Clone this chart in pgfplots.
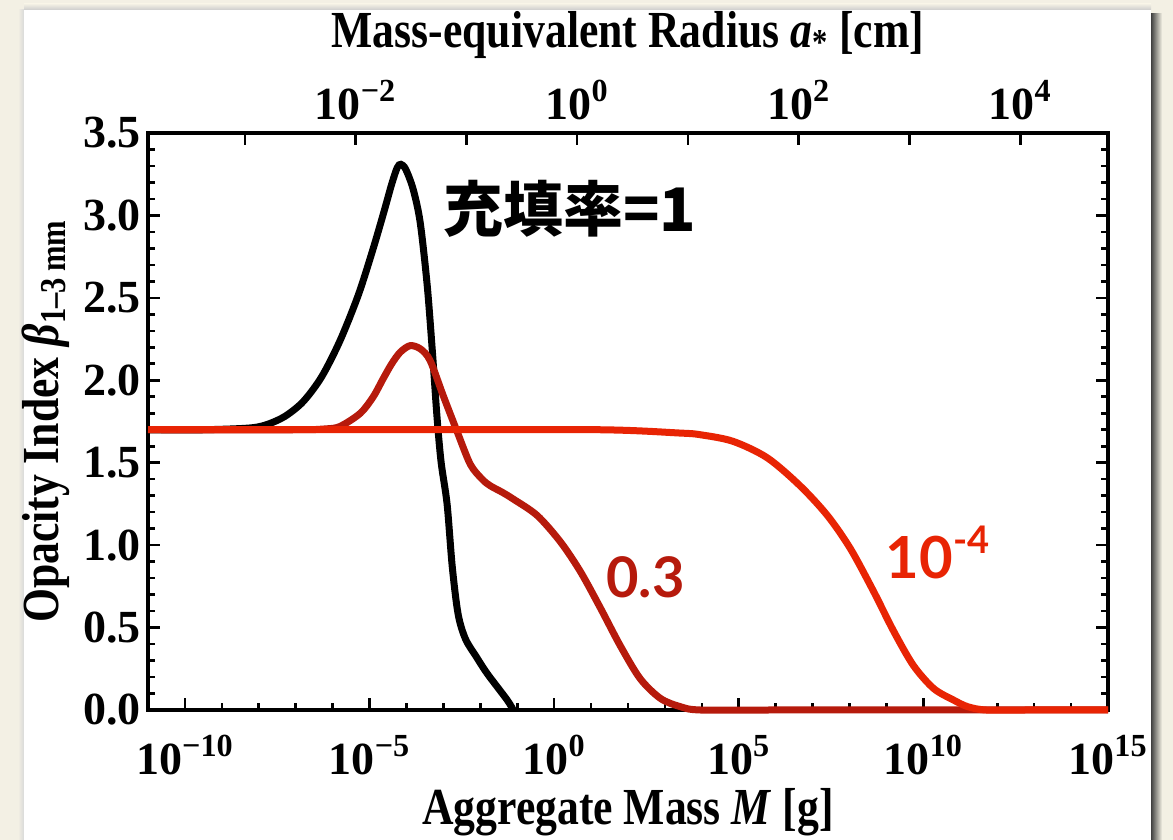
\documentclass[border=0pt]{standalone}
\usepackage{fontspec}
\setmainfont{Liberation Serif}
\newfontfamily\condserif{Liberation Serif}[FakeStretch=0.84]
\newfontfamily\cjk{Noto Sans CJK JP}
\newfontfamily\gill{Lato}
\usepackage{pgfplots}
\pgfplotsset{compat=1.18}
\definecolor{bg}{RGB}{243,240,228}
\definecolor{dred}{RGB}{182,26,12}
\definecolor{bred}{RGB}{232,36,4}

\pgfplotstableread{
lm b
-11 1.70
-9.5 1.70
-8.28 1.71
-7.8 1.73
-7.3 1.78
-6.8 1.87
-6.3 2.02
-5.8 2.24
-5.3 2.52
-4.9 2.80
-4.6 3.03
-4.4 3.19
-4.25 3.29
-4.15 3.31
-4.02 3.28
-3.82 3.16
-3.63 2.96
-3.44 2.58
-3.30 2.18
-3.17 1.77
-3.06 1.50
-2.90 1.25
-2.76 0.87
-2.60 0.58
-2.40 0.43
-2.10 0.32
-1.81 0.22
-1.27 0.06
-1.11 0.00
}\packone

\pgfplotstableread{
lm b
-11 1.70
-7.0 1.70
-6.2 1.705
-5.8 1.72
-5.25 1.80
-4.9 1.90
-4.63 2.01
-4.4 2.10
-4.17 2.17
-3.90 2.21
-3.62 2.19
-3.36 2.12
-3.01 1.91
-2.63 1.69
-2.27 1.49
-1.95 1.40
-1.73 1.36
-1.40 1.32
-1.11 1.28
-0.46 1.18
0.17 1.02
0.71 0.84
1.25 0.62
1.79 0.39
2.33 0.19
2.88 0.07
3.42 0.02
3.96 0.00
6.0 0.00
15 0.00
}\packthree

\pgfplotstableread{
lm b
-11 1.70
-4 1.70
1.23 1.70
3.40 1.68
3.95 1.67
4.84 1.63
5.77 1.53
6.66 1.36
7.40 1.18
8.02 0.98
8.65 0.72
9.19 0.48
9.73 0.27
10.28 0.13
10.82 0.06
11.2 0.02
11.7 0.00
12.8 0.00
15 0.00
}\packfour

\begin{document}
\begin{tikzpicture}
\useasboundingbox (0,0) rectangle (586.5pt,420pt);
\fill[bg] (0,0) rectangle (586.5pt,420pt);
\shade[left color=black!75, right color=bg] (575.5pt,0) rectangle (581pt,413pt);
\shade[top color=bg, bottom color=black!20] (12pt,415pt) rectangle (575.5pt,418pt);
\shade[left color=bg, right color=black!15] (9pt,0) rectangle (12pt,415pt);
\fill[white] (12pt,0) rectangle (575.5pt,415pt);

\begin{axis}[
  at={(74pt,65pt)}, anchor=south west, scale only axis,
  width=480pt, height=288.5pt,
  xmin=-11, xmax=15, ymin=0, ymax=3.5,
  xtick={-10,-5,0,5,10,15},
  xticklabels={10\textsuperscript{−10},10\textsuperscript{−5},10\textsuperscript{0},10\textsuperscript{5},10\textsuperscript{10},10\textsuperscript{15}},
  minor xtick={-11,...,15},
  ytick={0,0.5,...,3.5},
  minor y tick num=4,
  xtick pos=left, ytick pos=both, yticklabel pos=left,
  tick align=inside,
  major tick length=6pt, minor tick length=3.5pt,
  every tick/.style={black, line width=1.3pt},
  axis line style={line width=2pt},
  yticklabel style={/pgf/number format/.cd, fixed, fixed zerofill, precision=1, assume math mode=true},
  ticklabel style={font=\bfseries\fontsize{23}{23}\selectfont},
  xticklabel style={yshift=-9pt},
  label style={font=\condserif\bfseries\fontsize{26}{28}\selectfont},
  xlabel={Aggregate Mass \textit{M} [g]},
  ylabel={Opacity Index \textit{β}\textsubscript{1–3\,mm}},
  clip=false,
]
\addplot[black, line width=3.5pt, smooth] table[x=lm, y=b] {\packone};
\addplot[dred, line width=3.5pt, smooth] table[x=lm, y=b] {\packthree};
\addplot[bred, line width=3.5pt, smooth] table[x=lm, y=b] {\packfour};
\node[anchor=west, font=\cjk\bfseries\fontsize{30}{30}\selectfont] at (axis cs:-3.2,3.04) {充填率=1};
\node[anchor=base, text=dred, font=\gill\bfseries\fontsize{28}{28}\selectfont] at (axis cs:2.47,0.68) {0.3};
\node[anchor=base west, text=bred, font=\gill\bfseries\fontsize{29}{29}\selectfont, inner sep=0pt] at (axis cs:8.97,0.80) {10\raisebox{0.42em}{\fontsize{19}{19}\selectfont -4}};
\end{axis}

\begin{axis}[
  at={(74pt,65pt)}, anchor=south west, scale only axis,
  width=480pt, height=288.5pt,
  xmin=-3.87403, xmax=4.79264, ymin=0, ymax=1,
  axis x line*=top, axis y line=none,
  xtick={-3,...,4},
  xticklabels={,10\textsuperscript{−2},,10\textsuperscript{0},,10\textsuperscript{2},,10\textsuperscript{4}},
  tick align=inside, major tick length=6pt,
  every tick/.style={black, line width=1.3pt},
  axis line style={line width=2pt},
  ticklabel style={font=\bfseries\fontsize{23}{23}\selectfont},
  xticklabel style={yshift=3pt},
  label style={font=\condserif\bfseries\fontsize{26}{28}\selectfont},
  xlabel={Mass-equivalent Radius \textit{a}\textsubscript{*} [cm]},
  xlabel style={yshift=4pt},
]
\end{axis}
\end{tikzpicture}
\end{document}
